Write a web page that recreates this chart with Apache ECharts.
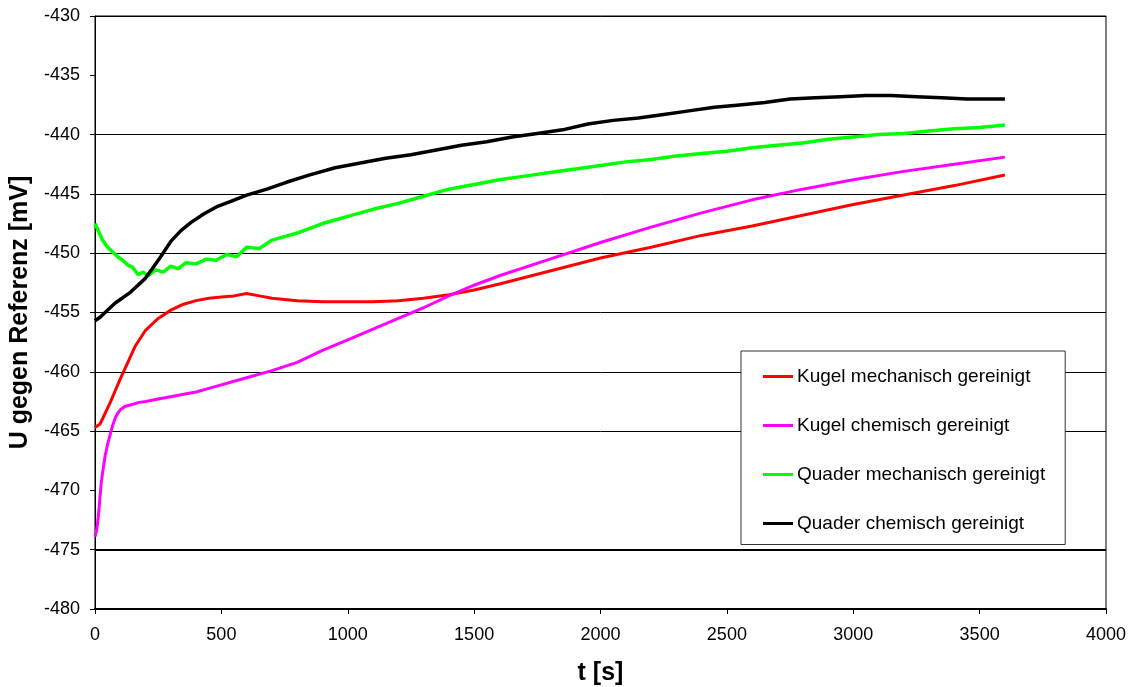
<!DOCTYPE html>
<html><head><meta charset="utf-8">
<script src="https://cdn.jsdelivr.net/npm/echarts@6/dist/echarts.min.js"></script>
<style>html,body{margin:0;padding:0;background:#fff}#c{width:1133px;height:687px}</style>
</head><body><div id="c"></div>
<script>
const seriesNames = ['Kugel mechanisch gereinigt','Kugel chemisch gereinigt','Quader mechanisch gereinigt','Quader chemisch gereinigt'];
const xTicks = [0,500,1000,1500,2000,2500,3000,3500,4000];
const yTicks = [-480,-475,-470,-465,-460,-455,-450,-445,-440,-435,-430];

const tRed = [0,20,40,60,80,100,130,160,200,250,300,350,400,450,500,550,600,650,700,800,900,1000,1100,1200,1300,1400,1500,1600,1800,2000,2200,2400,2600,2800,3000,3200,3400,3600];
const vRed = [-464.7,-464.4,-463.5,-462.6,-461.6,-460.6,-459.2,-457.8,-456.5,-455.5,-454.8,-454.3,-454.0,-453.8,-453.7,-453.6,-453.4,-453.6,-453.8,-454.0,-454.1,-454.1,-454.1,-454.0,-453.8,-453.5,-453.1,-452.6,-451.5,-450.4,-449.5,-448.5,-447.7,-446.8,-445.9,-445.1,-444.3,-443.4];

const tMag = [0,5,10,15,20,25,30,40,50,60,70,80,90,100,120,140,170,200,250,300,350,400,450,500,550,600,700,800,900,1000,1100,1200,1300,1400,1500,1600,1800,2000,2200,2400,2600,2800,3000,3200,3400,3600];
const vMag = [-473.9,-473.5,-472.8,-471.8,-470.5,-469.3,-468.5,-467.1,-466.1,-465.3,-464.5,-463.9,-463.5,-463.2,-462.9,-462.8,-462.6,-462.5,-462.3,-462.1,-461.9,-461.7,-461.4,-461.1,-460.8,-460.5,-459.9,-459.2,-458.2,-457.3,-456.4,-455.5,-454.6,-453.6,-452.7,-451.9,-450.5,-449.1,-447.8,-446.6,-445.5,-444.6,-443.8,-443.1,-442.5,-441.9];

const tGreen = [0,15,30,50,70,90,110,130,150,170,190,210,240,270,300,330,360,400,440,480,520,560,600,650,700,750,800,850,900,950,1000,1100,1200,1300,1400,1500,1600,1700,1800,1900,2000,2100,2200,2300,2400,2500,2600,2700,2800,2900,3000,3100,3200,3300,3400,3500,3600];
const vGreen = [-447.5,-448.2,-448.9,-449.5,-449.9,-450.3,-450.6,-451.0,-451.2,-451.8,-451.6,-451.9,-451.4,-451.6,-451.1,-451.3,-450.8,-450.9,-450.5,-450.6,-450.1,-450.3,-449.5,-449.6,-448.9,-448.6,-448.3,-447.9,-447.5,-447.2,-446.9,-446.3,-445.8,-445.2,-444.6,-444.2,-443.8,-443.5,-443.2,-442.9,-442.6,-442.3,-442.1,-441.8,-441.6,-441.4,-441.1,-440.9,-440.7,-440.4,-440.2,-440.0,-439.9,-439.7,-439.5,-439.4,-439.2];

const tBlack = [0,20,40,60,80,100,120,140,160,180,200,230,260,300,340,380,430,480,540,600,680,760,850,950,1050,1150,1250,1350,1450,1550,1650,1750,1850,1950,2050,2150,2250,2350,2450,2550,2650,2750,2850,2950,3050,3150,3250,3350,3450,3550,3600];
const vBlack = [-455.7,-455.4,-455.0,-454.6,-454.2,-453.9,-453.6,-453.3,-452.9,-452.5,-452.1,-451.2,-450.3,-449.0,-448.1,-447.4,-446.7,-446.1,-445.6,-445.1,-444.6,-444.0,-443.4,-442.8,-442.4,-442.0,-441.7,-441.3,-440.9,-440.6,-440.2,-439.9,-439.6,-439.1,-438.8,-438.6,-438.3,-438.0,-437.7,-437.5,-437.3,-437.0,-436.9,-436.8,-436.7,-436.7,-436.8,-436.9,-437.0,-437.0,-437.0];

const colors = ['#ff0000','#ff00ff','#00ff00','#000000'];
const widths = [3,3,3.5,3.5];
const tArr = [tRed,tMag,tGreen,tBlack];
const vArr = [vRed,vMag,vGreen,vBlack];

const font = 'Liberation Sans, Arial, sans-serif';
const chart = echarts.init(document.getElementById('c'), null, {renderer:'canvas'});
chart.setOption({
  animation:false,
  backgroundColor:'#fff',
  grid:{left:95,right:27,top:16,bottom:78,containLabel:false,outerBoundsMode:'none',show:true,borderColor:'#000',borderWidth:1,backgroundColor:'transparent'},
  legend:{
    orient:'vertical', left:741, top:351,
    data:seriesNames,
    icon:'path://M0,0 L30,0 L30,3 L0,3 Z',
    itemWidth:30, itemHeight:3, itemGap:30,
    padding:[16,20,11.5,22],
    borderColor:'#333', borderWidth:1, backgroundColor:'#fff',
    textStyle:{fontFamily:font,fontSize:19,lineHeight:19,color:'#000',padding:[0,0,0,-1]}
  },
  xAxis:{
    type:'value', min:xTicks[0], max:xTicks[xTicks.length-1], interval:500,
    name:'t [s]', nameLocation:'middle', nameGap:52,
    nameTextStyle:{fontFamily:font,fontSize:25,fontWeight:'bold',color:'#000'},
    axisLine:{lineStyle:{color:'#000',width:2}},
    axisTick:{show:true,inside:false,length:5,lineStyle:{color:'#000',width:1}},
    axisLabel:{fontFamily:font,fontSize:18,color:'#000',margin:17,formatter:v=>String(v)},
    splitLine:{show:false}
  },
  yAxis:{
    type:'value', min:yTicks[0], max:yTicks[yTicks.length-1], interval:5,
    name:'U gegen Referenz [mV]', nameLocation:'middle', nameGap:59, nameRotate:90,
    nameTextStyle:{fontFamily:font,fontSize:25,fontWeight:'bold',color:'#000'},
    axisLine:{show:true,lineStyle:{color:'#000',width:1}},
    axisTick:{show:true,inside:false,length:5,lineStyle:{color:'#000'}},
    axisLabel:{fontFamily:font,fontSize:18,color:'#000',margin:15,formatter:v=>String(v)},
    splitLine:{show:true,lineStyle:{color:['#000','#000','transparent','#000','#000','#000','#000','#000','#000','transparent','#000'],width:1}}
  },
  series: seriesNames.map((n,i)=>({
    name:n, type:'line', symbol:'none', smooth:false,
    color:colors[i],
    lineStyle:{color:colors[i],width:widths[i]},
    data: tArr[i].map((t,j)=>[t,vArr[i][j]]),
    markLine: i===0 ? {silent:true,symbol:'none',label:{show:false},lineStyle:{color:'#000',width:2,type:'solid'},data:[{yAxis:yTicks[1]}]} : undefined
  }))
});
</script></body></html>
